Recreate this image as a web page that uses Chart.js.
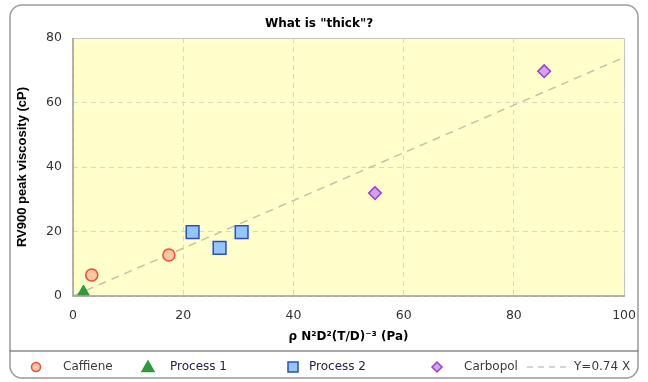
<!DOCTYPE html>
<html>
<head>
<meta charset="utf-8">
<script src="https://cdn.jsdelivr.net/npm/chart.js@4.4.1/dist/chart.umd.min.js"></script>
<style>
html,body{margin:0;padding:0;background:#fff;}
#wrap{width:648px;height:382px;position:relative;}
</style>
</head>
<body>
<div id="wrap"><canvas id="c" width="648" height="382"></canvas></div>
<script>
const chartTitle = 'What is "thick"?';
const xTitle = 'ρ N²D²(T/D)⁻³ (Pa)';
const yTitle = 'RV900 peak viscosity (cP)';
const seriesNames = ['Caffiene', 'Process 1', 'Process 2', 'Carbopol', 'Y=0.74 X'];
const caffX = [3.4, 17.4];
const caffY = [6.5, 12.7];
const p1X = [1.9];
const p1Y = [1.3];
const p2X = [21.7, 26.6, 30.6];
const p2Y = [19.8, 14.9, 19.8];
const carbX = [54.8, 85.5];
const carbY = [31.9, 69.7];
const fitX = [0, 100];
const fitY = [0, 74];
const xTicks = [0, 20, 40, 60, 80, 100];
const yTicks = [0, 20, 40, 60, 80];

const pts = (xs, ys) => xs.map((x, i) => ({x: x, y: ys[i]}));

const styles = [
  {pointStyle: 'circle', pointRadius: 6, backgroundColor: '#ffc6a0', borderColor: '#f04a3a', borderWidth: 1.5},
  {pointStyle: 'triangle', pointRadius: 6.7, backgroundColor: '#2e9a3c', borderColor: '#2e9a3c', borderWidth: 1},
  {pointStyle: 'rect', pointRadius: 9, backgroundColor: '#92c6ff', borderColor: '#2c4cc8', borderWidth: 1.5},
  {pointStyle: 'rectRot', pointRadius: 6.3, backgroundColor: '#d8a0f4', borderColor: '#9a3ec8', borderWidth: 1.5}
];

const bgPlugin = {
  id: 'bg',
  beforeDraw(chart) {
    const ctx = chart.ctx, a = chart.chartArea;
    ctx.save();
    ctx.fillStyle = '#fff';
    ctx.fillRect(0, 0, chart.width, chart.height);
    ctx.strokeStyle = '#9a9a9a';
    ctx.lineWidth = 1.5;
    ctx.beginPath();
    ctx.roundRect(10, 5, 628, 373, 12);
    ctx.stroke();
    ctx.fillStyle = '#ffffcc';
    ctx.fillRect(a.left, a.top, a.right - a.left, a.bottom - a.top);
    ctx.restore();
  },
  afterDraw(chart) {
    const ctx = chart.ctx, a = chart.chartArea;
    ctx.save();
    ctx.strokeStyle = '#c4c4c4';
    ctx.lineWidth = 1;
    ctx.beginPath();
    ctx.moveTo(a.left, a.top + 0.5); ctx.lineTo(a.right + 0.5, a.top + 0.5); ctx.lineTo(a.right + 0.5, a.bottom);
    ctx.stroke();
    ctx.strokeStyle = '#9a9a9a';
    ctx.lineWidth = 1.5;
    ctx.beginPath();
    ctx.moveTo(a.left, a.top); ctx.lineTo(a.left, a.bottom); ctx.lineTo(a.right + 1, a.bottom);
    ctx.stroke();
    ctx.strokeStyle = '#555';
    ctx.lineWidth = 1.2;
    ctx.beginPath();
    ctx.moveTo(10, 351); ctx.lineTo(638, 351);
    ctx.stroke();
    const ly = 367;
    const marks = [36, 148, 293, 437];
    const texts = [63, 170, 309, 464];
    ctx.font = '12px "DejaVu Sans", Verdana, sans-serif';
    ctx.textBaseline = 'middle';
    ctx.textAlign = 'left';
    for (let i = 0; i < 4; i++) {
      const s = styles[i], x = marks[i];
      ctx.fillStyle = s.backgroundColor;
      ctx.strokeStyle = s.borderColor;
      ctx.lineWidth = 1.5;
      ctx.beginPath();
      if (i === 0) ctx.arc(x, ly, 4.5, 0, Math.PI * 2);
      else if (i === 1) { ctx.moveTo(x, ly - 6); ctx.lineTo(x + 6, ly + 4.5); ctx.lineTo(x - 6, ly + 4.5); ctx.closePath(); }
      else if (i === 2) ctx.rect(x - 5, ly - 5, 10, 10);
      else { ctx.moveTo(x - 5, ly); ctx.lineTo(x, ly - 5); ctx.lineTo(x + 5, ly); ctx.lineTo(x, ly + 5); ctx.closePath(); }
      ctx.fill(); ctx.stroke();
      ctx.fillStyle = (i === 1 || i === 2) ? '#22224a' : '#3a3a3a';
      ctx.fillText(seriesNames[i], texts[i], ly);
    }
    ctx.strokeStyle = '#aaaaaa';
    ctx.lineWidth = 1.2;
    ctx.setLineDash([6, 5]);
    ctx.beginPath();
    ctx.moveTo(527, ly); ctx.lineTo(568, ly);
    ctx.stroke();
    ctx.setLineDash([]);
    ctx.fillStyle = '#3a3a3a';
    ctx.fillText(seriesNames[4], 574, ly);
    ctx.restore();
  }
};

const tickFont = {family: '"DejaVu Sans", Verdana, sans-serif', size: 12.5};
const titleFont = {family: '"DejaVu Sans", Verdana, sans-serif', size: 12, weight: 'bold'};
const yTitleFont = {family: '"Liberation Sans", Arial, sans-serif', size: 13, weight: 'bold'};

new Chart(document.getElementById('c'), {
  type: 'scatter',
  data: {
    datasets: [
      Object.assign({label: seriesNames[0], data: pts(caffX, caffY), order: 1}, styles[0]),
      Object.assign({label: seriesNames[1], data: pts(p1X, p1Y), order: 1}, styles[1]),
      Object.assign({label: seriesNames[2], data: pts(p2X, p2Y), order: 1}, styles[2]),
      Object.assign({label: seriesNames[3], data: pts(carbX, carbY), order: 1}, styles[3]),
      {label: seriesNames[4], type: 'line', data: pts(fitX, fitY), showLine: true, pointRadius: 0,
       borderColor: '#c4c2a8', borderWidth: 1.5, borderDash: [8, 6], fill: false, order: 10}
    ]
  },
  options: {
    responsive: false,
    animation: false,
    layout: {padding: {left: 10, right: 20, top: 0, bottom: 36}},
    plugins: {
      legend: {display: false},
      tooltip: {enabled: false},
      title: {display: true, text: chartTitle, color: '#000', font: titleFont, padding: {top: 16.5, bottom: 7.1}}
    },
    scales: {
      x: {
        type: 'linear', min: 0, max: 100,
        afterBuildTicks: s => { s.ticks = xTicks.map(v => ({value: v})); },
        afterFit: s => { s.height = 50; },
        ticks: {color: '#333', font: tickFont, padding: 12},
        grid: {color: '#d9d8c4', lineWidth: 1, drawTicks: false},
        border: {display: false, dash: [5, 4]},
        title: {display: true, text: xTitle, color: '#000', font: titleFont, padding: {top: 2, bottom: 2}}
      },
      y: {
        type: 'linear', min: 0, max: 80,
        afterBuildTicks: s => { s.ticks = yTicks.map(v => ({value: v})); },
        afterFit: s => { s.width = 63; },
        ticks: {color: '#333', font: tickFont, padding: 11},
        grid: {color: '#d9d8c4', lineWidth: 1, drawTicks: false},
        border: {display: false, dash: [5, 4]},
        title: {display: true, text: yTitle, color: '#000', font: yTitleFont, padding: {top: 5, bottom: 4}}
      }
    }
  },
  plugins: [bgPlugin]
});
</script>
</body>
</html>
